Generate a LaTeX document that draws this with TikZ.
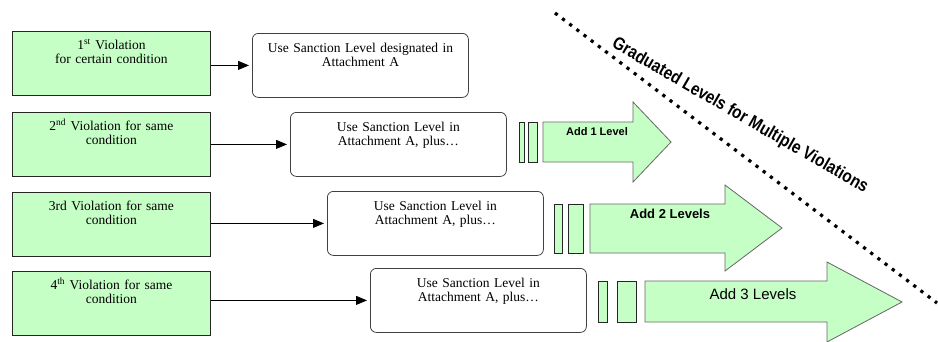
\documentclass[tikz,border=0pt]{standalone}
\usepackage{fontspec}
\setmainfont{Liberation Serif}
\setsansfont{Liberation Sans}
\usepackage{xcolor}
\usepackage{tikz}
\usetikzlibrary{arrows.meta}
\definecolor{vgreen}{RGB}{198,255,198}
\tikzset{
  violation/.style={draw=black!85, fill=vgreen, line width=0.8pt, inner sep=0pt, anchor=north west,
    text width=198pt, align=center, text height=18pt, text depth=46pt, font=\fontsize{13.5}{14.5}\selectfont},
  sanction/.style={draw=black!75, rounded corners=6pt, line width=0.8pt, inner sep=0pt, anchor=north west,
    text width=216pt, align=center, text height=19pt, text depth=45pt, font=\fontsize{13.5}{14.5}\selectfont},
  levelbar/.style={draw=black!85, fill=vgreen, line width=0.8pt},
  levelarrow/.style={draw=black!60, fill=vgreen, line width=0.8pt},
  flow/.style={-{Triangle[length=11pt,width=9pt]}, line width=0.8pt, shorten >=3pt},
}

\begin{document}
\begin{tikzpicture}[x=1pt,y=-1pt]
  \useasboundingbox (0,0) rectangle (938,341);

  % violations and sanction levels
  \node[violation] (v1) at (12,31) {1\textsuperscript{st} Violation\\for certain condition};
  \node[violation] (v2) at (12,112) {2\textsuperscript{nd} Violation for same\\condition};
  \node[violation] (v3) at (12,192) {3rd Violation for same\\condition};
  \node[violation] (v4) at (12,271) {4\textsuperscript{th} Violation for same\\condition};

  \node[sanction] (s1) at (252,33) {Use Sanction Level designated in\\Attachment A};
  \node[sanction] (s2) at (290,112) {Use Sanction Level in\\Attachment A, plus\dots};
  \node[sanction] (s3) at (327,191) {Use Sanction Level in\\Attachment A, plus\dots};
  \node[sanction] (s4) at (370,268) {Use Sanction Level in\\Attachment A, plus\dots};

  \draw[flow] (v1.east |- s1.west) -- (s1.west);
  \draw[flow] (v2.east |- s2.west) -- (s2.west);
  \draw[flow] (v3.east |- s3.west) -- (s3.west);
  \draw[flow] (v4.east |- s4.west) -- (s4.west);

  % added levels
  \draw[levelbar] (519,122) rectangle (524,162);
  \draw[levelbar] (528,122) rectangle (537,162);
  \draw[levelarrow] (543,122) -- (633,122) -- (633,102) -- (671,142) -- (633,182) -- (633,162) -- (543,162) -- cycle;
  \node[font=\sffamily\bfseries\fontsize{11}{13}\selectfont] (a1) at (597,132) {Add 1 Level};

  \draw[levelbar] (554,204) rectangle (562,253);
  \draw[levelbar] (568,204) rectangle (583,253);
  \draw[levelarrow] (590,204) -- (725,204) -- (725,185) -- (782,228) -- (725,271) -- (725,253) -- (590,253) -- cycle;
  \node[font=\sffamily\bfseries\fontsize{13}{15}\selectfont] (a2) at (670,214) {Add 2 Levels};

  \draw[levelbar] (598,281) rectangle (607,322);
  \draw[levelbar] (617,281) rectangle (636,322);
  \draw[levelarrow] (645,281) -- (827,281) -- (827,262) -- (902,302) -- (827,342) -- (827,322) -- (645,322) -- cycle;
  \node[font=\sffamily\fontsize{15}{17}\selectfont] (a3) at (753,294) {Add 3 Levels};

  % dotted divider
  \coordinate (d1) at (555,13);
  \coordinate (d2) at (937,303);
  \draw[line width=3.2pt, dash pattern=on 3.2pt off 5.8pt] (d1) -- (d2);
  \node[font=\sffamily\bfseries\fontsize{18}{20}\selectfont, rotate=-30] (title) at (740,116)
    {\scalebox{0.85}[1]{Graduated Levels for Multiple Violations}};
\end{tikzpicture}
\end{document}
